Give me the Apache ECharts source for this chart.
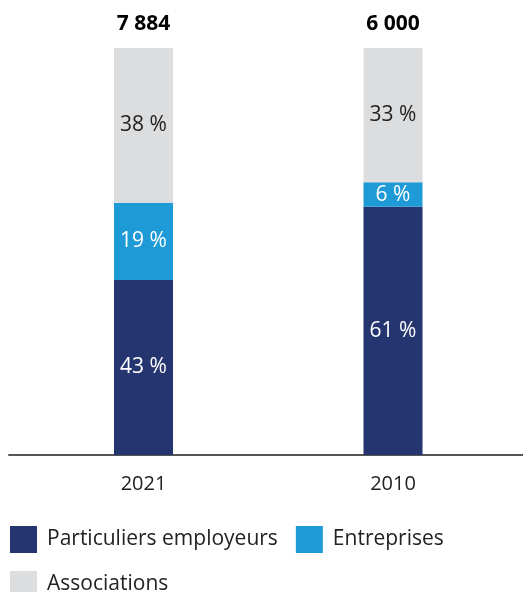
<!DOCTYPE html>
<html><head><meta charset="utf-8">
<script src="https://cdn.jsdelivr.net/npm/echarts@6/dist/echarts.min.js"></script>
<style>html,body{margin:0;padding:0;background:#fff}#c{width:523px;height:592px}</style>
</head><body><div id="c"></div>
<script>
const categories = ['2021', '2010'];
const totals = ['7 884', '6 000'];
const particuliers = [43, 61];
const entreprises = [19, 6];
const associations = [38, 33];
const seriesNames = ['Particuliers employeurs', 'Entreprises', 'Associations'];

const FONT = '"Open Sans", "Noto Sans", sans-serif';
const chart = echarts.init(document.getElementById('c'), null, {renderer: 'canvas'});
const pctLabel = (color) => ({
  show: true, position: 'inside', color: color, fontFamily: FONT, fontSize: 21,
  formatter: p => p.value + ' %'
});
chart.setOption({
  animation: false,
  textStyle: {fontFamily: FONT},
  grid: [
    {left: 18.75, right: 5.25, top: 48, bottom: 137},
    {left: 9, right: 0, top: 48, bottom: 137}
  ],
  xAxis: [
    {type: 'category', data: categories, gridIndex: 0,
     axisLine: {show: false}, axisTick: {show: false},
     axisLabel: {color: '#222', fontSize: 20, margin: 19, fontFamily: FONT}},
    {type: 'category', data: [''], gridIndex: 1,
     axisLine: {show: true, lineStyle: {color: '#555', width: 2}},
     axisTick: {show: false}, axisLabel: {show: false}}
  ],
  yAxis: [
    {type: 'value', min: 0, max: 100, gridIndex: 0, show: false},
    {type: 'value', min: 0, max: 100, gridIndex: 1, show: false}
  ],
  legend: {
    left: 5, top: 521, right: 0, itemWidth: 27, itemHeight: 27, itemGap: 18,
    icon: 'rect', data: seriesNames,
    textStyle: {color: '#222', fontSize: 21, fontFamily: FONT, padding: [0, 0, 0, 5]}
  },
  series: [
    {name: seriesNames[0], type: 'bar', stack: 's', barWidth: 59, data: particuliers,
     itemStyle: {color: '#253570'}, label: pctLabel('#fff')},
    {name: seriesNames[1], type: 'bar', stack: 's', barWidth: 59, data: entreprises,
     itemStyle: {color: '#1e9ad6'}, label: pctLabel('#fff')},
    {name: seriesNames[2], type: 'bar', stack: 's', barWidth: 59, data: associations,
     itemStyle: {color: '#dcdddf'}, label: pctLabel('#222')},
    {name: 'total', type: 'bar', stack: 's', barWidth: 59, data: [0, 0],
     itemStyle: {color: 'transparent'},
     label: {show: true, position: 'top', distance: 13, color: '#000', fontWeight: 'bold',
       fontSize: 21, fontFamily: FONT, formatter: p => totals[p.dataIndex]}}
  ]
});
</script></body></html>
